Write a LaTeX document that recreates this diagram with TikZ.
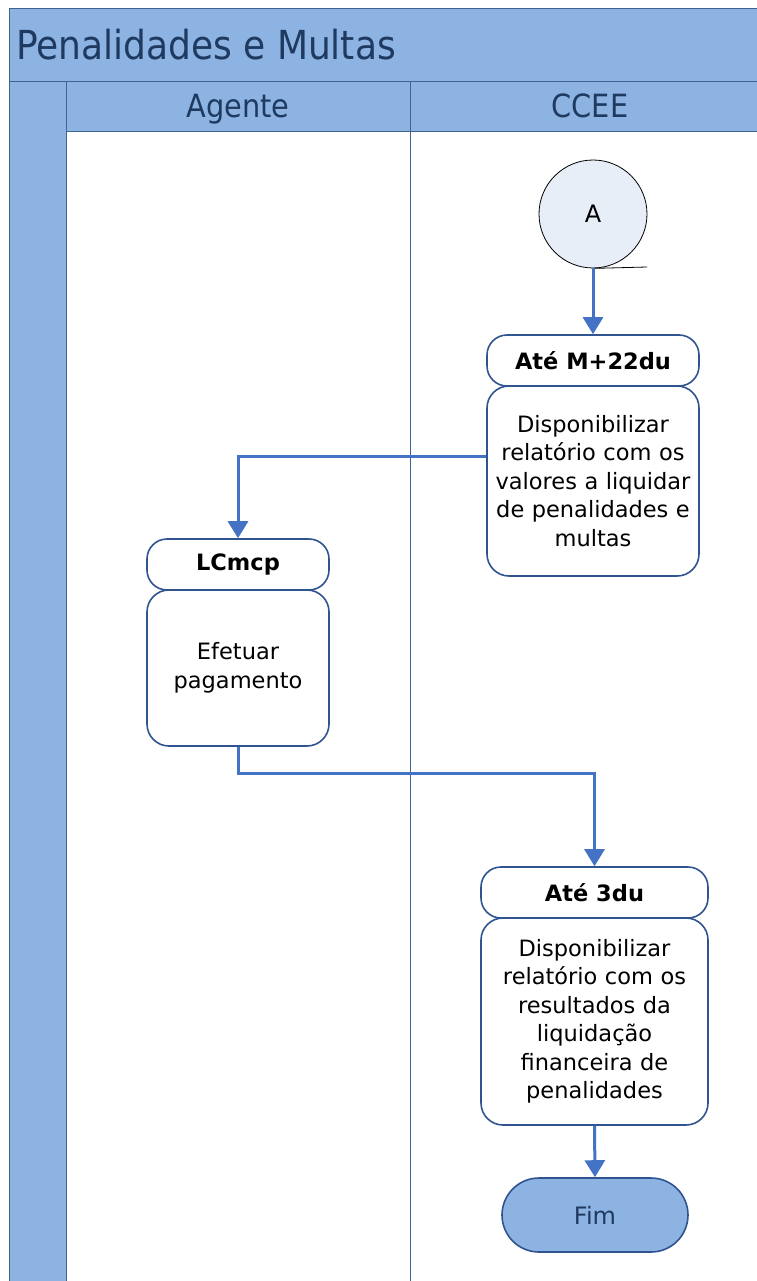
\documentclass[tikz,border=0pt]{standalone}
\usepackage{fontspec}
\setmainfont{DejaVu Sans}
\newfontfamily\condfont{DejaVu Sans Condensed}
\usetikzlibrary{arrows.meta,positioning}
\definecolor{hdrblue}{HTML}{8DB3E2}
\definecolor{frameline}{HTML}{41648E}
\definecolor{boxline}{HTML}{2F5490}
\definecolor{arrowblue}{HTML}{4472C4}
\definecolor{navytext}{HTML}{1F3A60}
\definecolor{circfill}{HTML}{E8EEF8}
\tikzset{
  lanehdr/.style={fill=hdrblue, draw=frameline, line width=1pt},
  hdrbox/.style={draw=boxline, line width=1.6pt, fill=white, rounded corners=20, minimum height=51, inner sep=0pt, font=\fontsize{22.5}{26}\selectfont\bfseries},
  bodybox/.style={draw=boxline, line width=1.6pt, fill=white, rounded corners=22, inner sep=0pt, align=center, font=\fontsize{22.5}{28.5}\selectfont},
  flow/.style={draw=arrowblue, line width=3pt, -{Triangle[length=17pt,width=20pt]}},
  lanetitle/.style={text=navytext, font=\condfont\fontsize{32}{36}\selectfont, anchor=base, inner sep=0pt},
}
\begin{document}
\begin{tikzpicture}[x=1pt,y=-1pt]
\useasboundingbox (0,0) rectangle (756,1281);
% frame and lanes
\fill[white] (9,132) rectangle (756,1281);
\draw[lanehdr] (9,9) rectangle (760,82);
\node[anchor=base west, text=navytext, font=\condfont\fontsize{40}{44}\selectfont, inner sep=0pt] (title) at (16,60) {Penalidades e Multas};
\draw[lanehdr] (9,82) rectangle (66,1290);
\draw[lanehdr] (66,82) rectangle (410,132);
\draw[lanehdr] (410,82) rectangle (760,132);
\node[lanetitle] (lagente) at (238,118) {Agente};
\node[lanetitle] (lccee) at (590,118) {CCEE};
\draw[frameline, line width=1pt] (66,132) -- (66,1290);
\draw[frameline, line width=1pt] (410,132) -- (410,1290);
% start connector A
\node[circle, draw=black, line width=0.8pt, fill=circfill, minimum size=108, inner sep=0pt, font=\fontsize{24}{28}\selectfont] (A) at (593,214) {A};
\coordinate (Aend) at (647,267);
\draw[black, line width=0.8pt] (A.south) -- (Aend);
% step 1
\node[hdrbox, minimum width=212] (h1) at (593,360.5) {Até M+22du};
\node[bodybox, minimum width=212, minimum height=190, text width=212] (b1) at (593,481) {Disponibilizar\\relatório com os\\valores a liquidar\\de penalidades e\\multas};
% step 2
\node[hdrbox, minimum width=182] (h2) at (238,564.5) {LCmcp};
\node[bodybox, minimum width=182, minimum height=156, text width=182] (b2) at (238,668) {Efetuar\\pagamento};
% step 3
\node[hdrbox, minimum width=227] (h3) at (594.5,892.5) {Até 3du};
\node[bodybox, minimum width=227, minimum height=207, text width=227] (b3) at (594.5,1021.5) {Disponibilizar\\relatório com os\\resultados da\\liquidação\\financeira de\\penalidades};
% end
\node[draw=boxline, line width=1.6pt, fill=hdrblue, rounded corners=37, minimum width=186, minimum height=74, inner sep=0pt, text=navytext, font=\fontsize{24}{28}\selectfont] (fim) at (595,1215) {Fim};
% connectors
\draw[flow] (A.south) -- (h1.north);
\draw[flow] ([yshift=25pt]b1.west) -| (h2.north);
\coordinate (turn) at (238,773);
\draw[flow] (b2.south) -- (turn) -| (h3.north);
\draw[flow] (b3.south) -- (fim.north);
\end{tikzpicture}
\end{document}
